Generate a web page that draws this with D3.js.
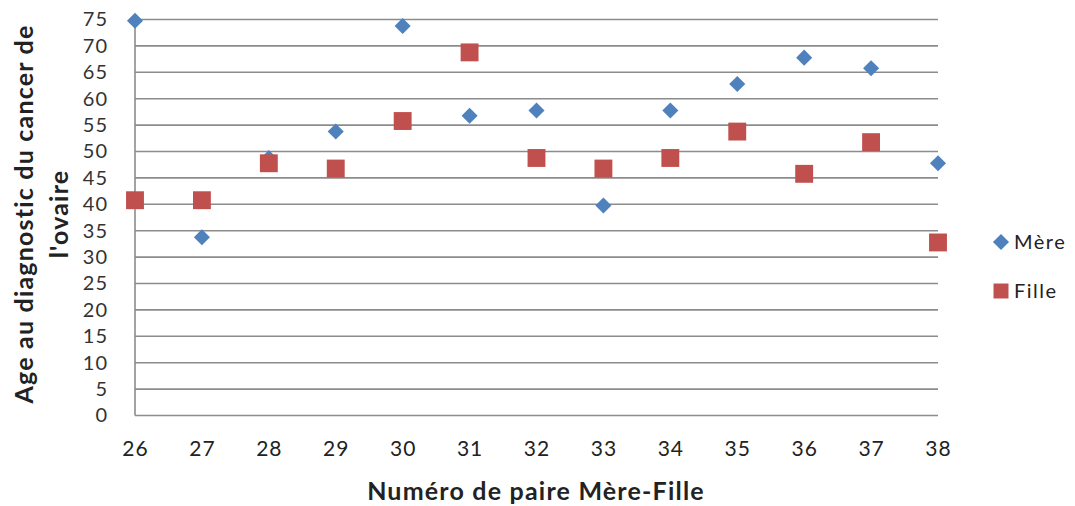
<!DOCTYPE html>
<html><head><meta charset="utf-8">
<script src="https://cdn.jsdelivr.net/npm/d3@7"></script>
<style>body{margin:0;background:#fff}svg{display:block}text{font-family:Lato,"Open Sans",sans-serif}</style>
</head><body><svg id="c" width="1075" height="506"></svg>
<script>
const pairs = [26,27,28,29,30,31,32,33,34,35,36,37,38];
const mere  = [75,34,49,54,74,57,58,40,58,63,68,66,48];
const fille = [41,41,48,47,56,69,49,47,49,54,46,52,33];
const yTicks = d3.range(0,80,5);
const seriesNames = ["Mère","Fille"];
const colors = ["#4F81BD","#C0504D"];

const svg = d3.select("#c");
const L=135,R=938,T=19.5,B=415.5;
const x = d3.scaleLinear().domain([26,38]).range([L,R]);
const y = d3.scaleLinear().domain([0,75]).range([B,T]);

svg.append("g").selectAll("line").data(yTicks).join("line")
  .attr("x1",L).attr("x2",R).attr("y1",d=>y(d)).attr("y2",d=>y(d))
  .attr("stroke","#8c8c8c").attr("stroke-width",1.6);
svg.append("line").attr("x1",L).attr("x2",L).attr("y1",T).attr("y2",B).attr("stroke","#8c8c8c").attr("stroke-width",1.6);

const yAxis = svg.append("g").attr("transform",`translate(${L},0)`).call(d3.axisLeft(y).tickValues(yTicks).tickSize(0).tickPadding(27));
yAxis.select(".domain").remove();
yAxis.selectAll("text").attr("font-size",20).attr("letter-spacing","1px").attr("fill","#333");
const xAxis = svg.append("g").attr("transform",`translate(0,${B})`).call(d3.axisBottom(x).tickValues(pairs).tickSize(0).tickPadding(26).tickFormat(d3.format("d")));
xAxis.select(".domain").remove();
xAxis.selectAll("text").attr("font-size",21).attr("letter-spacing","1px").attr("fill","#222");

const diamond = d3.symbol().type(d3.symbolDiamond2).size(165);
const square = d3.symbol().type(d3.symbolSquare).size(320);
const off = 1.2;

svg.append("g").selectAll("path").data(pairs.map((p,i)=>[p,mere[i]])).join("path")
  .attr("d",diamond).attr("transform",d=>`translate(${x(d[0])},${y(d[1])+off})`).attr("fill",colors[0]);
svg.append("g").selectAll("path").data(pairs.map((p,i)=>[p,fille[i]])).join("path")
  .attr("d",square).attr("transform",d=>`translate(${x(d[0])},${y(d[1])+off})`).attr("fill",colors[1]);

// legend
const lg = svg.append("g");
[[242,diamond,0],[291,d3.symbol().type(d3.symbolSquare).size(225),1]].forEach(([ly,sym,i])=>{
  lg.append("path").attr("d",sym).attr("transform",`translate(1001,${ly})`).attr("fill",colors[i]);
  lg.append("text").attr("x",1014).attr("y",ly).attr("dy","0.35em").attr("font-size",20).attr("letter-spacing","1.5px").attr("fill","#222").text(seriesNames[i]);
});

svg.append("text").attr("x",536).attr("y",500).attr("text-anchor","middle").attr("font-size",25).attr("letter-spacing","1.2px").attr("font-weight","bold").attr("fill","#222").text("Numéro de paire Mère-Fille");
const yt = svg.append("text").attr("transform","translate(33,214) rotate(-90)").attr("text-anchor","middle").attr("font-size",25).attr("letter-spacing","1.2px").attr("font-weight","bold").attr("fill","#222");
yt.append("tspan").attr("x",0).attr("y",0).text("Age au diagnostic du cancer de");
yt.append("tspan").attr("x",0).attr("y",35).text("l'ovaire");
</script></body></html>
